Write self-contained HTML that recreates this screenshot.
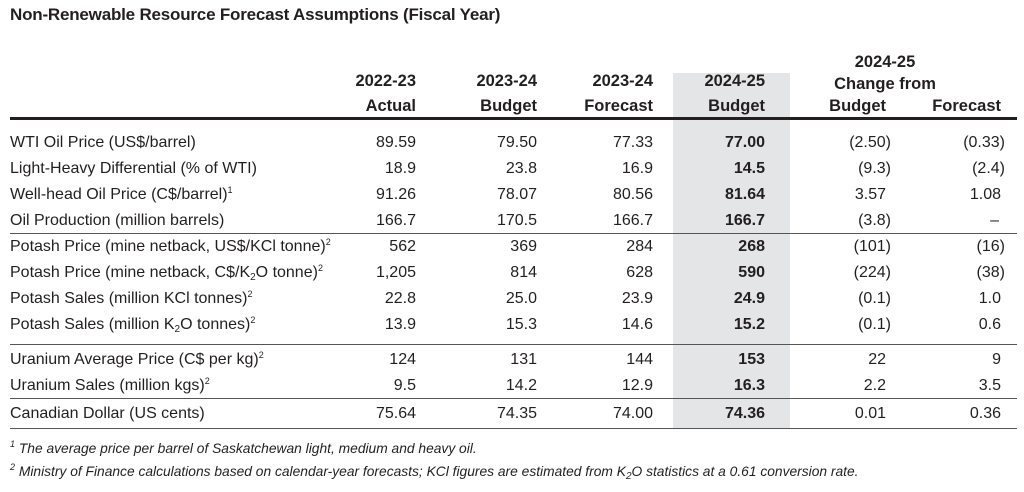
<!DOCTYPE html>
<html><head><meta charset="utf-8"><style>
body{margin:0;width:1024px;height:492px;background:#fff;position:relative;overflow:hidden;font-family:"Liberation Sans",sans-serif;color:#231f20}
div{position:absolute;white-space:nowrap}
.t{left:10px;top:5px;font-size:17px;font-weight:bold;letter-spacing:-0.2px}
.shade{left:673px;width:117px;top:73px;height:355px;background:#e4e5e6}
.hr{left:10px;width:1007px;height:1px;background:#555}
.h{font-weight:bold;font-size:16.5px;line-height:25px}
.r{font-size:16px;line-height:18px;height:18px}
.r span{position:absolute;top:0}
.r .l{left:10px}
.b{font-weight:bold}
sup{font-size:9px;vertical-align:6px;line-height:0}
sub{font-size:10px;vertical-align:-3px;line-height:0}
.fn{left:10px;font-size:13.8px;font-style:italic}
</style></head><body>
<div class="t">Non-Renewable Resource Forecast Assumptions (Fiscal Year)</div>
<div class="shade"></div>
<div class="h" style="right:608px;top:69px;text-align:right">2022-23<br>Actual</div>
<div class="h" style="right:487px;top:69px;text-align:right">2023-24<br>Budget</div>
<div class="h" style="right:371px;top:69px;text-align:right">2023-24<br>Forecast</div>
<div class="h" style="right:259px;top:69px;text-align:right">2024-25<br>Budget</div>
<div class="h" style="left:790px;width:190px;top:51px;text-align:center;line-height:22px">2024-25<br>Change from</div>
<div class="h" style="right:138px;top:94px">Budget</div>
<div class="h" style="right:23px;top:94px">Forecast</div>
<div class="hr" style="top:117px;height:3px;background:#231f20"></div>

<div class="r" style="top:134px;left:0;width:1024px"><span class="l">WTI Oil Price (US$/barrel)</span><span style="right:608px">89.59</span><span style="right:487px">79.50</span><span style="right:371px">77.33</span><span class="b" style="right:259px">77.00</span><span style="right:133px">(2.50)</span><span style="right:19px">(0.33)</span></div>
<div class="r" style="top:160px;left:0;width:1024px"><span class="l">Light-Heavy Differential (% of WTI)</span><span style="right:608px">18.9</span><span style="right:487px">23.8</span><span style="right:371px">16.9</span><span class="b" style="right:259px">14.5</span><span style="right:133px">(9.3)</span><span style="right:19px">(2.4)</span></div>
<div class="r" style="top:186px;left:0;width:1024px"><span class="l">Well-head Oil Price (C$/barrel)<sup>1</sup></span><span style="right:608px">91.26</span><span style="right:487px">78.07</span><span style="right:371px">80.56</span><span class="b" style="right:259px">81.64</span><span style="right:138px">3.57</span><span style="right:23px">1.08</span></div>
<div class="r" style="top:212px;left:0;width:1024px"><span class="l">Oil Production (million barrels)</span><span style="right:608px">166.7</span><span style="right:487px">170.5</span><span style="right:371px">166.7</span><span class="b" style="right:259px">166.7</span><span style="right:133px">(3.8)</span><span style="right:25px">–</span></div>
<div class="hr" style="top:233px"></div>
<div class="r" style="top:238px;left:0;width:1024px"><span class="l">Potash Price (mine netback, US$/KCl tonne)<sup>2</sup></span><span style="right:608px">562</span><span style="right:487px">369</span><span style="right:371px">284</span><span class="b" style="right:259px">268</span><span style="right:133px">(101)</span><span style="right:19px">(16)</span></div>
<div class="r" style="top:264px;left:0;width:1024px"><span class="l">Potash Price (mine netback, C$/K<sub>2</sub>O tonne)<sup>2</sup></span><span style="right:608px">1,205</span><span style="right:487px">814</span><span style="right:371px">628</span><span class="b" style="right:259px">590</span><span style="right:133px">(224)</span><span style="right:19px">(38)</span></div>
<div class="r" style="top:290px;left:0;width:1024px"><span class="l">Potash Sales (million KCl tonnes)<sup>2</sup></span><span style="right:608px">22.8</span><span style="right:487px">25.0</span><span style="right:371px">23.9</span><span class="b" style="right:259px">24.9</span><span style="right:133px">(0.1)</span><span style="right:23px">1.0</span></div>
<div class="r" style="top:316px;left:0;width:1024px"><span class="l">Potash Sales (million K<sub>2</sub>O tonnes)<sup>2</sup></span><span style="right:608px">13.9</span><span style="right:487px">15.3</span><span style="right:371px">14.6</span><span class="b" style="right:259px">15.2</span><span style="right:133px">(0.1)</span><span style="right:23px">0.6</span></div>
<div class="hr" style="top:344px"></div>
<div class="r" style="top:351px;left:0;width:1024px"><span class="l">Uranium Average Price (C$ per kg)<sup>2</sup></span><span style="right:608px">124</span><span style="right:487px">131</span><span style="right:371px">144</span><span class="b" style="right:259px">153</span><span style="right:138px">22</span><span style="right:23px">9</span></div>
<div class="r" style="top:377px;left:0;width:1024px"><span class="l">Uranium Sales (million kgs)<sup>2</sup></span><span style="right:608px">9.5</span><span style="right:487px">14.2</span><span style="right:371px">12.9</span><span class="b" style="right:259px">16.3</span><span style="right:138px">2.2</span><span style="right:23px">3.5</span></div>
<div class="hr" style="top:398px"></div>
<div class="r" style="top:405px;left:0;width:1024px"><span class="l">Canadian Dollar (US cents)</span><span style="right:608px">75.64</span><span style="right:487px">74.35</span><span style="right:371px">74.00</span><span class="b" style="right:259px">74.36</span><span style="right:138px">0.01</span><span style="right:23px">0.36</span></div>
<div class="hr" style="top:428px"></div>
<div class="fn" style="top:441px"><sup>1</sup> The average price per barrel of Saskatchewan light, medium and heavy oil.</div>
<div class="fn" style="top:464px"><sup>2</sup> Ministry of Finance calculations based on calendar-year forecasts; KCl figures are estimated from K<sub>2</sub>O statistics at a 0.61 conversion rate.</div>
</body></html>
